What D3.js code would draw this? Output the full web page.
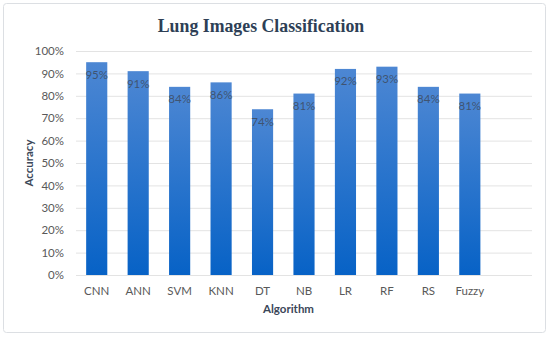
<!DOCTYPE html>
<html><head><meta charset="utf-8">
<script src="https://cdn.jsdelivr.net/npm/d3@7"></script>
<style>body{margin:0;background:#fff}</style>
</head><body>
<svg id="c" width="550" height="337"></svg>
<script>
const categories = ["CNN","ANN","SVM","KNN","DT","NB","LR","RF","RS","Fuzzy"];
const accuracy = [95, 91, 84, 86, 74, 81, 92, 93, 84, 81];
const slots = categories.concat([""]);
const yTicks = [0,10,20,30,40,50,60,70,80,90,100];

const svg = d3.select("#c");
const m = {l:76, r:532, t:51, b:275};
const FONT = "Lato, 'Open Sans', sans-serif";

svg.append("rect").attr("x",3.5).attr("y",3.5).attr("width",542).attr("height",329)
  .attr("rx",3).attr("fill","#fff").attr("stroke","#dcdfe3").attr("stroke-width",1);

const defs = svg.append("defs");
const g = defs.append("linearGradient").attr("id","bg").attr("x1",0).attr("y1",0).attr("x2",0).attr("y2",1);
g.append("stop").attr("offset","0%").attr("stop-color","#4d87d3");
g.append("stop").attr("offset","100%").attr("stop-color","#0762c6");

const x = d3.scaleBand().domain(slots.map((d,i)=>i)).range([m.l,m.r]).paddingInner(0.49).paddingOuter(0.245);
const y = d3.scaleLinear().domain([0,100]).range([m.b,m.t]);

// gridlines
svg.append("g").selectAll("line").data(yTicks).join("line")
  .attr("x1",m.l).attr("x2",m.r).attr("y1",d=>y(d)+0.5).attr("y2",d=>y(d)+0.5)
  .attr("stroke","#e3e3e3").attr("stroke-width",1);

// y axis labels
const ya = svg.append("g").attr("transform",`translate(${m.l-12},0)`)
  .call(d3.axisLeft(y).tickValues(yTicks).tickSize(0).tickPadding(0).tickFormat(d=>d+"%"));
ya.select(".domain").remove();
ya.selectAll("text").attr("font-family",FONT).attr("font-size",11.5).attr("fill","#595959");

// bars
svg.append("g").selectAll("rect").data(accuracy).join("rect")
  .attr("x",(d,i)=>x(i)).attr("width",x.bandwidth())
  .attr("y",d=>y(d)).attr("height",d=>y(0)-y(d)).attr("fill","url(#bg)");

// data labels
svg.append("g").selectAll("text").data(accuracy).join("text")
  .attr("x",(d,i)=>x(i)+x.bandwidth()/2).attr("y",d=>y(d)+16.5)
  .attr("text-anchor","middle").attr("font-family",FONT)
  .attr("font-size",11.5).attr("fill","#3e4b5e").attr("fill-opacity",0.85)
  .text(d=>d+"%");

// x axis labels
const xa = svg.append("g").attr("transform",`translate(0,${m.b+8})`)
  .call(d3.axisBottom(x).tickSize(0).tickPadding(4).tickFormat(i=>slots[i]));
xa.select(".domain").remove();
xa.selectAll("text").attr("font-family",FONT).attr("font-size",11.5).attr("fill","#595959");

// title
svg.append("text").attr("x",261).attr("y",32).attr("text-anchor","middle")
  .attr("font-family","'Liberation Serif', 'Times New Roman', serif").attr("font-weight","bold")
  .attr("font-size",17.8).attr("fill","#2e3f56").text("Lung Images Classification");

// axis titles
svg.append("text").attr("x",288.5).attr("y",313).attr("text-anchor","middle")
  .attr("font-family",FONT).attr("font-weight","bold")
  .attr("font-size",11.5).attr("fill","#3b4759").text("Algorithm");
svg.append("text").attr("transform","translate(33,163) rotate(-90)").attr("text-anchor","middle")
  .attr("font-family",FONT).attr("font-weight","bold")
  .attr("font-size",11.5).attr("fill","#3b4759").text("Accuracy");
</script>
</body></html>
